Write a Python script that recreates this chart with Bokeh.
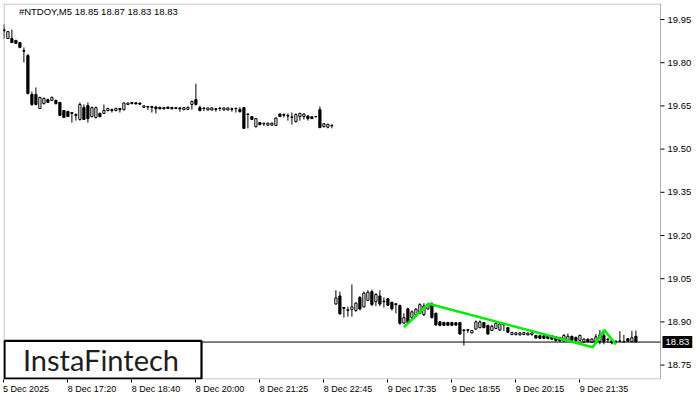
from bokeh.plotting import figure
from bokeh.models import (Range1d, LinearAxis, FixedTicker, Label, BoxAnnotation,
                          ColumnDataSource, NumeralTickFormatter, CustomJSTickFormatter)
from bokeh.embed import file_html
from bokeh.resources import INLINE

# ---------------- data ----------------
symbol_title = "#NTDOY,M5  18.85 18.87 18.83 18.83"
last_price = 18.83
last_price_text = "18.83"

opens = [
    19.915, 19.884, 19.884, 19.877, 19.870, 19.842, 19.825, 19.690, 19.690, 19.641,
    19.658, 19.672, 19.669, 19.669, 19.662, 19.634, 19.631, 19.627, 19.620, 19.603,
    19.644, 19.651, 19.613, 19.610, 19.624, 19.624, 19.634, 19.637, 19.634, 19.641,
    19.637, 19.655, 19.662, 19.661, 19.660, 19.645, 19.648, 19.644, 19.646, 19.645,
    19.644, 19.646, 19.645, 19.641, 19.643, 19.637, 19.638, 19.655, 19.672, 19.644,
    19.643, 19.636, 19.636, 19.640, 19.643, 19.636, 19.636, 19.640, 19.642, 19.637,
    19.644, 19.622, 19.613, 19.578, 19.592, 19.590, 19.583, 19.583, 19.582, 19.622,
    19.620, 19.617, 19.610, 19.596, 19.613, 19.613, 19.615, 19.612, 19.613, 19.637,
    19.578, 19.576, 19.583, 18.962, 18.990, 18.950, 18.942, 18.943, 18.940, 18.985,
    18.952, 18.975, 19.005, 18.970, 18.990, 18.972, 18.980, 18.968, 18.963, 18.957,
    18.896, 18.945, 18.915, 18.925, 18.930, 18.925, 18.945, 18.962, 18.930, 18.900,
    18.898, 18.898, 18.898, 18.897, 18.898, 18.872, 18.873, 18.862, 18.875, 18.880,
    18.898, 18.888, 18.870, 18.877, 18.872, 18.893, 18.880, 18.856, 18.856, 18.855,
    18.856, 18.855, 18.856, 18.853, 18.852, 18.852, 18.851, 18.852, 18.848, 18.846,
    18.834, 18.836, 18.850, 18.846, 18.836, 18.830, 18.840, 18.829, 18.830, 18.832,
    18.853, 18.840, 18.835, 18.832, 18.833, 18.831, 18.842, 18.832, 18.850,
]
highs = [
    19.933, 19.910, 19.915, 19.880, 19.872, 19.853, 19.830, 19.700, 19.714, 19.682,
    19.679, 19.675, 19.683, 19.672, 19.664, 19.636, 19.633, 19.628, 19.624, 19.662,
    19.655, 19.662, 19.648, 19.648, 19.627, 19.655, 19.644, 19.641, 19.644, 19.643,
    19.662, 19.662, 19.663, 19.662, 19.661, 19.652, 19.649, 19.650, 19.650, 19.647,
    19.645, 19.647, 19.646, 19.646, 19.645, 19.646, 19.648, 19.669, 19.727, 19.651,
    19.644, 19.644, 19.644, 19.643, 19.644, 19.644, 19.644, 19.644, 19.643, 19.646,
    19.646, 19.624, 19.615, 19.608, 19.594, 19.591, 19.592, 19.592, 19.610, 19.624,
    19.624, 19.624, 19.627, 19.624, 19.626, 19.624, 19.617, 19.614, 19.614, 19.648,
    19.590, 19.588, 19.585, 19.010, 19.005, 18.952, 18.953, 19.030, 18.968, 18.990,
    19.005, 19.010, 19.012, 19.000, 19.010, 18.985, 18.982, 18.970, 18.965, 18.960,
    18.930, 18.950, 18.940, 18.948, 18.965, 18.965, 18.965, 18.968, 18.932, 18.903,
    18.900, 18.900, 18.900, 18.899, 18.900, 18.875, 18.874, 18.872, 18.905, 18.905,
    18.900, 18.890, 18.890, 18.897, 18.898, 18.896, 18.882, 18.866, 18.864, 18.864,
    18.865, 18.863, 18.864, 18.855, 18.854, 18.854, 18.853, 18.854, 18.850, 18.848,
    18.858, 18.860, 18.852, 18.849, 18.856, 18.843, 18.842, 18.844, 18.858, 18.872,
    18.870, 18.845, 18.838, 18.835, 18.868, 18.855, 18.843, 18.869, 18.870,
]
lows = [
    19.884, 19.884, 19.870, 19.866, 19.850, 19.801, 19.690, 19.650, 19.652, 19.640,
    19.655, 19.660, 19.667, 19.655, 19.615, 19.608, 19.612, 19.592, 19.599, 19.599,
    19.601, 19.592, 19.610, 19.606, 19.610, 19.622, 19.631, 19.627, 19.631, 19.627,
    19.634, 19.653, 19.656, 19.655, 19.654, 19.643, 19.636, 19.627, 19.624, 19.638,
    19.638, 19.639, 19.638, 19.639, 19.630, 19.635, 19.636, 19.637, 19.651, 19.631,
    19.632, 19.634, 19.634, 19.630, 19.632, 19.634, 19.634, 19.630, 19.627, 19.627,
    19.570, 19.572, 19.601, 19.575, 19.583, 19.580, 19.582, 19.582, 19.580, 19.611,
    19.610, 19.599, 19.585, 19.592, 19.599, 19.603, 19.599, 19.604, 19.611, 19.572,
    19.575, 19.572, 19.572, 18.960, 18.925, 18.915, 18.918, 18.918, 18.935, 18.940,
    18.950, 18.972, 18.955, 18.955, 18.955, 18.950, 18.955, 18.940, 18.930, 18.890,
    18.893, 18.893, 18.912, 18.922, 18.928, 18.920, 18.943, 18.912, 18.886, 18.885,
    18.887, 18.887, 18.887, 18.887, 18.855, 18.818, 18.862, 18.860, 18.873, 18.878,
    18.878, 18.855, 18.868, 18.875, 18.868, 18.868, 18.862, 18.854, 18.853, 18.853,
    18.854, 18.853, 18.852, 18.842, 18.842, 18.841, 18.840, 18.838, 18.832, 18.832,
    18.832, 18.833, 18.833, 18.832, 18.834, 18.829, 18.829, 18.827, 18.825, 18.822,
    18.822, 18.828, 18.822, 18.828, 18.830, 18.828, 18.830, 18.829, 18.830,
]
closes = [
    19.910, 19.908, 19.870, 19.867, 19.853, 19.840, 19.693, 19.655, 19.655, 19.679,
    19.676, 19.662, 19.679, 19.658, 19.617, 19.610, 19.613, 19.624, 19.617, 19.655,
    19.603, 19.606, 19.644, 19.644, 19.613, 19.634, 19.641, 19.634, 19.641, 19.637,
    19.660, 19.660, 19.658, 19.657, 19.656, 19.650, 19.646, 19.648, 19.640, 19.640,
    19.640, 19.641, 19.640, 19.644, 19.640, 19.644, 19.645, 19.665, 19.655, 19.634,
    19.641, 19.643, 19.643, 19.638, 19.641, 19.643, 19.643, 19.638, 19.640, 19.630,
    19.572, 19.620, 19.603, 19.606, 19.585, 19.588, 19.590, 19.590, 19.608, 19.613,
    19.618, 19.615, 19.612, 19.620, 19.624, 19.622, 19.606, 19.606, 19.612, 19.575,
    19.588, 19.586, 19.581, 18.983, 18.928, 18.947, 18.940, 18.952, 18.965, 18.945,
    19.000, 19.003, 18.960, 18.995, 18.962, 18.970, 18.958, 18.945, 18.960, 18.895,
    18.915, 18.898, 18.935, 18.944, 18.960, 18.955, 18.962, 18.915, 18.890, 18.888,
    18.888, 18.888, 18.888, 18.889, 18.858, 18.870, 18.871, 18.870, 18.900, 18.900,
    18.880, 18.858, 18.885, 18.895, 18.893, 18.890, 18.864, 18.863, 18.862, 18.862,
    18.863, 18.861, 18.862, 18.844, 18.843, 18.843, 18.842, 18.840, 18.835, 18.834,
    18.853, 18.850, 18.836, 18.835, 18.853, 18.840, 18.831, 18.840, 18.848, 18.855,
    18.832, 18.838, 18.827, 18.833, 18.834, 18.832, 18.833, 18.845, 18.830,
]

# pattern (green zig-zag): bar index and price of its turning points
pattern_bars = [100.0, 106.2, 147.2, 150.1, 153.0]
pattern_prices = [18.882, 18.963, 18.812, 18.872, 18.822]

# time axis
time_tick_bars = [0, 16, 32, 48, 64, 80, 96, 112, 128, 144]
time_tick_labels = ["5 Dec 2025", "8 Dec 17:20", "8 Dec 18:40", "8 Dec 20:00", "8 Dec 21:25",
                    "8 Dec 22:45", "9 Dec 17:35", "9 Dec 18:55", "9 Dec 20:15", "9 Dec 21:35"]
price_ticks = [18.75, 18.90, 19.05, 19.20, 19.35, 19.50, 19.65, 19.80, 19.95]

watermark = "InstaFintech"

# ---------------- figure ----------------
n = len(opens)
assert len(highs) == n and len(lows) == n and len(closes) == n
bars = list(range(n))
src = ColumnDataSource(dict(
    x=bars, h=highs, l=lows,
    top=[max(o, c) for o, c in zip(opens, closes)],
    bottom=[min(o, c) for o, c in zip(opens, closes)],
    fill=["white" if c > o else "black" for o, c in zip(opens, closes)],
))

FONT = "Liberation Sans"
PX_PER_BAR = 4.0
CHART_W = 657                      # chart area (bordered) width in px
AXIS_W = 33                        # price-scale strip, kept inside the frame
FRAME_H = 376
x_start = -0.1
chart_right = x_start + CHART_W / PX_PER_BAR
x_end = x_start + (CHART_W + AXIS_W) / PX_PER_BAR
y_start, y_end = 18.70, 20.0056
px_y = (y_end - y_start) / FRAME_H

p = figure(frame_width=CHART_W + AXIS_W, frame_height=FRAME_H,
           x_range=Range1d(x_start, x_end), y_range=Range1d(y_start, y_end),
           output_backend="svg", toolbar_location=None,
           x_axis_location=None, y_axis_location=None,
           min_border_left=3, min_border_top=3, min_border_right=0, min_border_bottom=0,
           background_fill_color="white", border_fill_color="white",
           outline_line_color=None)
p.xgrid.visible = False
p.ygrid.visible = False

# chart border (only round the chart area, not the price scale)
p.add_layout(BoxAnnotation(left=x_start + 0.5 / PX_PER_BAR, right=chart_right,
                           bottom=y_start + 0.5 * px_y, top=y_end - 0.5 * px_y,
                           fill_color=None, fill_alpha=0, line_color="black", line_width=1,
                           level="underlay"))

# candles
p.segment(x0="x", y0="h", x1="x", y1="l", source=src, line_color="black", line_width=1)
p.vbar(x="x", top="top", bottom="bottom", width=0.55, source=src,
       fill_color="fill", line_color="black", line_width=1)

# last price line across the chart area
p.line([x_start, chart_right], [last_price, last_price], line_color="black", line_width=1)

# pattern line
p.line(pattern_bars, pattern_prices, line_color="#00ee00", line_width=2.5)

# price scale tick marks (just right of the chart border)
p.segment(x0=[chart_right] * len(price_ticks), y0=price_ticks,
          x1=[chart_right + 4 / PX_PER_BAR] * len(price_ticks), y1=price_ticks,
          line_color="black", line_width=1)

# right price axis (labels drawn back into the price-scale strip)
yax = LinearAxis(ticker=FixedTicker(ticks=price_ticks),
                 formatter=NumeralTickFormatter(format="0.00"),
                 major_tick_out=0, major_tick_in=0, minor_tick_out=0, minor_tick_in=0,
                 axis_line_color=None, major_label_standoff=-(AXIS_W - 7),
                 major_label_text_font=FONT, major_label_text_font_size="9.5px",
                 major_label_text_color="black")
p.add_layout(yax, "right")

# bottom time axis: tick marks (minor ticks) at the bars, labels starting at their tick
label_pos = [b + len(t) * 4.4 / 2 / PX_PER_BAR for b, t in zip(time_tick_bars, time_tick_labels)]
xax = LinearAxis(ticker=FixedTicker(ticks=label_pos, minor_ticks=time_tick_bars),
                 formatter=CustomJSTickFormatter(args=dict(pos=label_pos, labs=time_tick_labels), code="""
                     for (let i = 0; i < pos.length; i++) {
                         if (Math.abs(tick - pos[i]) < 1e-6) return labs[i];
                     }
                     return "";
                 """),
                 major_tick_out=0, major_tick_in=0, minor_tick_out=3, minor_tick_in=0,
                 minor_tick_line_color="black",
                 axis_line_color=None, major_label_standoff=1,
                 major_label_text_font=FONT, major_label_text_font_size="9px",
                 major_label_text_color="black")
p.add_layout(xax, "below")

# title text in the corner
p.add_layout(Label(x=3.75, y=19.978, text=symbol_title, text_font=FONT, text_font_size="9.5px",
                   text_baseline="middle", text_align="left", text_color="black"))

# price tag on the price scale
p.add_layout(Label(x=chart_right + 2 / PX_PER_BAR, y=last_price, text=last_price_text, text_font=FONT,
                   text_font_size="9.5px", text_baseline="middle", text_align="left",
                   text_color="white", background_fill_color="black", padding=3))

# watermark box
p.add_layout(BoxAnnotation(left=x_start + 1 / PX_PER_BAR, right=49.4,
                           bottom=y_start + 1 * px_y, top=18.834,
                           fill_color="white", fill_alpha=1.0,
                           line_color="black", line_width=2.2, line_alpha=1.0))
p.add_layout(Label(x=4.75, y=18.7694, text=watermark, text_font="Lato", text_font_size="29px",
                   text_baseline="middle", text_align="left", text_color="#1e1e1e"))

open("out.html", "w").write(file_html(p, INLINE))
